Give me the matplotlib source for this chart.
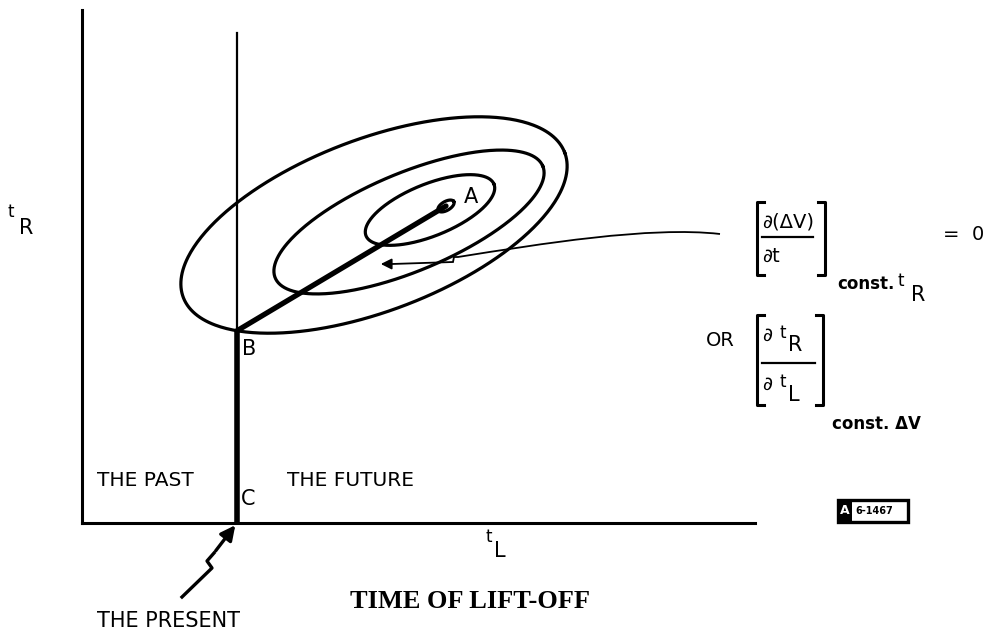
import numpy as np
import matplotlib.pyplot as plt
from matplotlib.path import Path
from matplotlib.patches import PathPatch

# t_L / t_R plane, in units measured from the origin corner
T_L_MAX = 673
T_R_MAX = 513
PRESENT_TL = 155          # time of the present on the t_L axis
PRESENT_TOP = 490

# delta-V contours: centre, semi-axes, tilt (deg); last one is the minimum A
contour_centres = [(292, 298), (327, 301), (348, 313), (364, 317)]
contour_axes = [(204, 86), (145, 49), (69, 26), (9, 4.5)]
contour_tilt = [20.8, 22.7, 22.0, 30.0]

# leader from the derivative label down into the contours (cubic + notch)
leader_tl = [638, 568, 458, 376, 372, 371, 310]
leader_tr = [289, 297, 279, 266, 266, 261, 259]

# "the present" pointer
present_tl = [100, 130, 125, 132, 153]
present_tr = [-74, -45, -38, -30, -3]

FONT = "DejaVu Sans"
INK = "black"


def ellipse(centre, axes, tilt, n=400):
    t = np.linspace(0, 2 * np.pi, n)
    cx, cy = centre
    a, b = axes
    th = np.radians(tilt)
    xs = cx + a * np.cos(t) * np.cos(th) - b * np.sin(t) * np.sin(th)
    ys = cy + a * np.cos(t) * np.sin(th) + b * np.sin(t) * np.cos(th)
    return xs, ys


fig = plt.figure(figsize=(9.89, 6.36), dpi=100)
fig.patch.set_facecolor("white")

ax = fig.add_axes([82 / 989, 113 / 636, 673 / 989, 513 / 636])
ax.set_xlim(0, T_L_MAX)
ax.set_ylim(0, T_R_MAX)
for side in ["top", "right"]:
    ax.spines[side].set_visible(False)
for side in ["left", "bottom"]:
    ax.spines[side].set_linewidth(2.2)
ax.set_xticks([])
ax.set_yticks([])
ax.patch.set_alpha(0)

# contours of constant delta-V
curves = [ellipse(c, s, a) for c, s, a in zip(contour_centres, contour_axes, contour_tilt)]
for xs, ys in curves:
    ax.plot(xs, ys, color=INK, lw=2.3)

# B: where the outer contour meets the present (lower crossing)
ox, oy = curves[0]
cross = np.where(np.diff(np.sign(ox - PRESENT_TL)) != 0)[0]
b_tr = min(np.interp(PRESENT_TL, sorted([ox[i], ox[i + 1]]),
                     [oy[i], oy[i + 1]] if ox[i] < ox[i + 1] else [oy[i + 1], oy[i]])
           for i in cross)
point_b = (PRESENT_TL, b_tr)
point_a = contour_centres[-1]

# the present: thin above B, heavy path below
ax.plot([PRESENT_TL, PRESENT_TL], [b_tr, PRESENT_TOP], color=INK, lw=1.6)
ax.plot([PRESENT_TL, PRESENT_TL], [0, b_tr], color=INK, lw=4.0,
        solid_capstyle="butt")

# optimal path B -> A
ax.plot([point_b[0], point_a[0]], [point_b[1], point_a[1]], color=INK,
        lw=3.8, solid_capstyle="round")

# leader: smooth sweep, small notch, then arrow
verts = list(zip(leader_tl, leader_tr))
codes = [Path.MOVETO, Path.CURVE4, Path.CURVE4, Path.CURVE4,
         Path.LINETO, Path.LINETO, Path.LINETO]
ax.add_patch(PathPatch(Path(verts, codes), fill=False, ec=INK, lw=1.3))
ax.annotate("", xy=(leader_tl[-1] - 14, leader_tr[-1]),
            xytext=(leader_tl[-1] + 2, leader_tr[-1]),
            arrowprops=dict(arrowstyle="-|>", color=INK, lw=1.3,
                            mutation_scale=16))

# pointer to the present
ax.plot(present_tl[:-1], present_tr[:-1], color=INK, lw=2.4, clip_on=False)
ax.annotate("", xy=(PRESENT_TL, 0), xytext=(present_tl[-2], present_tr[-2]),
            arrowprops=dict(arrowstyle="-|>", color=INK, lw=2.4,
                            mutation_scale=22),
            annotation_clip=False)

# labels in figure pixels
ov = fig.add_axes([0, 0, 1, 1])
ov.set_xlim(0, 989)
ov.set_ylim(636, 0)
ov.axis("off")
ov.patch.set_alpha(0)


def label(x, y, s, size=13, **kw):
    kw.setdefault("family", FONT)
    kw.setdefault("color", INK)
    kw.setdefault("ha", "left")
    ov.text(x, y, s, fontsize=size, va="center", **kw)


label(8, 212, "t", size=12)
label(19, 228, "R", size=15)
label(485, 537, "t", size=12)
label(494, 551, "L", size=15)
label(242, 349, "B", size=15)
label(464, 197, "A", size=15)
label(241, 499, "C", size=15)
label(97, 480, "THE PAST", size=14.5)
label(287, 480, "THE FUTURE", size=14.5)
label(97, 621, "THE PRESENT", size=15)
ov.text(350, 602, "TIME OF LIFT-OFF", fontsize=19, family="Liberation Serif",
        weight="bold", ha="left", va="center", color=INK)


def bracket(x0, x1, y0, y1):
    tick = 7
    ov.plot([x0 + tick, x0, x0, x0 + tick], [y0, y0, y1, y1], color=INK, lw=2.2)
    ov.plot([x1 - tick, x1, x1, x1 - tick], [y0, y0, y1, y1], color=INK, lw=2.2)


# first derivative
bracket(757, 825, 202, 275)
label(762, 222, "\u2202(\u0394V)", size=14)
ov.plot([762, 813], [237, 237], color=INK, lw=1.6)
label(762, 256, "\u2202t", size=14)
label(837, 284, "const.", size=12, weight="bold")
label(897, 281, "t", size=12)
label(911, 295, "R", size=15)
label(943, 234, "=  0", size=14)

# second derivative
label(735, 340, "OR", size=14, ha="right")
bracket(757, 823, 315, 405)
label(762, 335, "\u2202", size=14)
label(779, 333, "t", size=12)
label(788, 345, "R", size=15)
ov.plot([762, 815], [363, 363], color=INK, lw=1.6)
label(762, 384, "\u2202", size=14)
label(779, 382, "t", size=12)
label(788, 395, "L", size=15)
label(832, 424, "const. \u0394V", size=12, weight="bold")

# drawing number tag
ov.add_patch(plt.Rectangle((838, 500), 70, 22, fill=False, lw=2.4, ec=INK))
ov.add_patch(plt.Rectangle((838, 500), 14, 22, fill=True, lw=0, fc=INK))
label(840, 511, "A", size=9, color="white", weight="bold")
label(855, 511, "6-1467", size=7, weight="bold")

fig.savefig("out.png", dpi=100, facecolor="white")
